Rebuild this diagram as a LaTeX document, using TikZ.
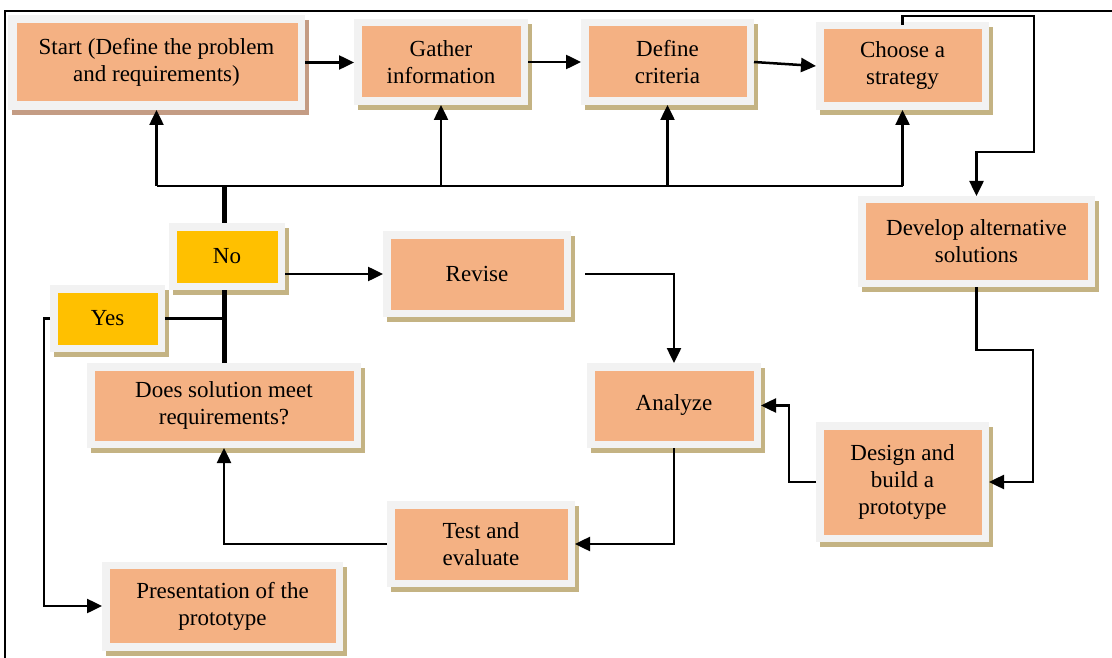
\documentclass[tikz,border=0pt]{standalone}
\usepackage{fontspec}
\setmainfont{Liberation Serif}
\usetikzlibrary{arrows.meta,shadows}
\definecolor{boxorange}{HTML}{F4B183}
\definecolor{boxframe}{HTML}{F2F2F2}
\definecolor{boxshadow}{HTML}{C4B383}
\definecolor{startshadow}{HTML}{C49C84}
\definecolor{answer}{HTML}{FFC000}
\tikzset{
  flowbox/.style={rectangle, fill=boxframe, inner sep=0pt, outer sep=0pt, align=center,
    font=\fontsize{23}{27}\selectfont,
    general shadow={fill=boxshadow, shadow xshift=4pt, shadow yshift=-5pt},
    path picture={\fill[boxorange] ([shift={(7.5pt,-7.5pt)}]path picture bounding box.north west) rectangle ([shift={(-7.5pt,7.5pt)}]path picture bounding box.south east);}},
  answerbox/.style={rectangle, fill=boxframe, inner sep=0pt, outer sep=0pt, align=center,
    font=\fontsize{23}{27}\selectfont,
    general shadow={fill=boxshadow, shadow xshift=4pt, shadow yshift=-5pt},
    path picture={\fill[answer] ([shift={(7.5pt,-7.5pt)}]path picture bounding box.north west) rectangle ([shift={(-7.5pt,7.5pt)}]path picture bounding box.south east);}},
  startbox/.style={rectangle, fill=boxframe, inner sep=0pt, outer sep=0pt, align=center,
    font=\fontsize{23}{27}\selectfont,
    general shadow={fill=startshadow, shadow xshift=4pt, shadow yshift=-5pt},
    path picture={\fill[boxorange] ([shift={(8.5pt,-8pt)}]path picture bounding box.north west) rectangle ([shift={(-7.5pt,9pt)}]path picture bounding box.south east);}},
  conn/.style={line width=2.5pt},
  arr/.style={line width=2.5pt, -{Triangle[length=15pt,width=14pt]}},
  thickline/.style={line width=5pt},
}
\begin{document}
\begin{tikzpicture}[x=1pt,y=-1pt]
\useasboundingbox (0,0) rectangle (1112,658);
% outer frame
\draw[line width=1.5pt] (5,658) -- (5,11) -- (1112,11);

% boxes
\node[startbox, minimum width=297pt, minimum height=95pt] (start) at (156.5,62.5) {Start (Define the problem\\and requirements)};
\node[flowbox, minimum width=174pt, minimum height=86pt] (gather) at (441,62) {Gather\\information};
\node[flowbox, minimum width=173pt, minimum height=86pt] (define) at (667.5,62) {Define\\criteria};
\node[flowbox, minimum width=173pt, minimum height=88pt] (choose) at (902.5,66) {Choose a\\strategy};
\node[flowbox, minimum width=237pt, minimum height=91pt] (develop) at (976.5,241.5) {Develop alternative\\solutions};
\node[answerbox, minimum width=116pt, minimum height=67pt] (no) at (227,256.5) {No};
\node[answerbox, minimum width=115pt, minimum height=67pt] (yes) at (107.5,318.5) {Yes};
\node[flowbox, minimum width=274pt, minimum height=85pt] (does) at (224,405.5) {Does solution meet\\requirements?};
\node[flowbox, minimum width=188pt, minimum height=86pt] (revise) at (477,274) {Revise};
\node[flowbox, minimum width=174pt, minimum height=85pt] (analyze) at (674,405.5) {Analyze};
\node[flowbox, minimum width=173pt, minimum height=120pt] (design) at (902.5,482) {Design and\\build a\\prototype};
\node[flowbox, minimum width=188pt, minimum height=86pt] (test) at (481,544) {Test and\\evaluate};
\node[flowbox, minimum width=241pt, minimum height=89pt] (pres) at (222.5,606) {Presentation of the\\prototype};

% top row
\draw[arr] (start.east) -- (start.east -| gather.west);
\draw[arr] (gather.east) -- (define.west);
\draw[arr] (define.east) -- (choose.west);

% choose -> develop
\coordinate (ctop) at (1034,16);
\coordinate (cmid) at (1034,152);
\draw[arr] ([yshift=-3pt]choose.north) -- (choose.north |- ctop) -- (ctop) -- (cmid) -| (develop.north);

% develop -> design
\coordinate (dmid) at (1033,350);
\draw[arr] (develop.south) |- (dmid) |- (design.east);

% design -> analyze
\draw[arr] (design.west) -- ++(-27,0) |- (analyze.east);

% analyze -> test
\draw[arr] (analyze.south) |- (test.east);

% test -> does
\draw[arr] (test.west) -| (does.south);

% decision trunk
\coordinate (bus) at (224,186);
\draw[thickline] (does.north) -- (does.north |- no.south);
\draw[thickline] (does.north |- no.north) -- (bus);

% feedback bus
\draw[conn] (start.south |- bus) -- (choose.south |- bus);
\draw[arr] (start.south |- bus) -- (start.south);
\draw[arr] (gather.south |- bus) -- (gather.south);
\draw[arr] (define.south |- bus) -- (define.south);
\draw[arr] (choose.south |- bus) -- (choose.south);

% yes
\draw[conn] (yes.east) -- (yes.east -| does.north);
\draw[arr] (yes.west) -- ++(-6,0) |- (pres.west);

% no -> revise
\draw[arr] (no.east |- revise.west) -- (revise.west);
\draw[arr] ([xshift=14pt]revise.east) -| (analyze.north);
\end{tikzpicture}
\end{document}
